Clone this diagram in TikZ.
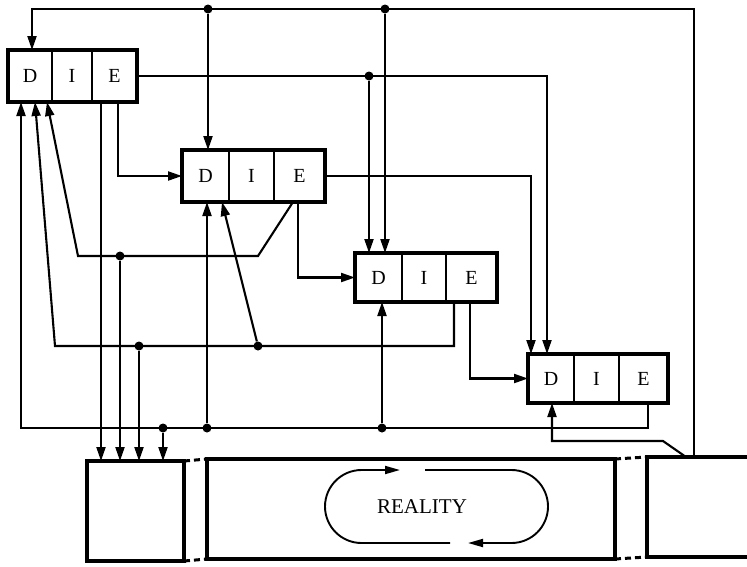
\documentclass[tikz,border=0pt]{standalone}
\usepackage{fontspec}
\setmainfont{Liberation Serif}
\usetikzlibrary{arrows.meta,calc}
\begin{document}
\begin{tikzpicture}[x=1pt,y=-1pt,
  wire/.style={line width=2.1pt,line join=miter},
  arr/.style={wire,-{Triangle[length=14pt,width=9pt]}},
  oarr/.style={wire,line width=1.9pt,-{Triangle[length=15pt,width=8pt]}},
  cell/.style={draw,line width=2pt,inner sep=0pt,outer sep=0pt,anchor=north west,font=\fontsize{20}{20}\selectfont},
  boxline/.style={line width=3.2pt},
  strip/.style={line width=3.2pt},
  stripbox/.style={draw,strip,inner sep=0pt,outer sep=0pt,anchor=north west},
  gap/.style={line width=3pt,dash pattern=on 6pt off 4pt},
  dot/.style={circle,fill,inner sep=0pt,minimum size=9pt}]
\useasboundingbox (0,0) rectangle (747,566);

% ---------- DIE boxes ----------
\node[cell,minimum width=44pt,minimum height=52pt] (d1) at (8,50) {D};
\node[cell,minimum width=40pt,minimum height=52pt] (i1) at (d1.north east) {I};
\node[cell,minimum width=45pt,minimum height=52pt] (e1) at (i1.north east) {E};
\draw[boxline] (d1.north west) rectangle (e1.south east);

\node[cell,minimum width=47pt,minimum height=52pt] (d2) at (182,150) {D};
\node[cell,minimum width=45pt,minimum height=52pt] (i2) at (d2.north east) {I};
\node[cell,minimum width=51pt,minimum height=52pt] (e2) at (i2.north east) {E};
\draw[boxline] (d2.north west) rectangle (e2.south east);

\node[cell,minimum width=47pt,minimum height=49pt] (d3) at (355,253) {D};
\node[cell,minimum width=44pt,minimum height=49pt] (i3) at (d3.north east) {I};
\node[cell,minimum width=51pt,minimum height=49pt] (e3) at (i3.north east) {E};
\draw[boxline] (d3.north west) rectangle (e3.south east);

\node[cell,minimum width=46pt,minimum height=49pt] (d4) at (528,354) {D};
\node[cell,minimum width=45pt,minimum height=49pt] (i4) at (d4.north east) {I};
\node[cell,minimum width=49pt,minimum height=49pt] (e4) at (i4.north east) {E};
\draw[boxline] (d4.north west) rectangle (e4.south east);

% ---------- bottom strip ----------
\node[stripbox,minimum width=97pt,minimum height=100pt] (act) at (87,461) {};
\node[stripbox,minimum width=408pt,minimum height=100pt] (real) at (207,459) {};
\coordinate (rbtl) at (647,457);
\coordinate (rbbl) at (647,557);
\coordinate (rbtr) at (747,457);
\coordinate (rbbr) at (747,557);
\draw[strip] (rbtr) -- (rbtl) -- (rbbl) -- (rbbr);
\draw[gap] (act.north east) -- (real.north west);
\draw[gap] (act.south east) -- (real.south west);
\draw[gap] (real.north east) -- (rbtl);
\draw[gap] (real.south east) -- (rbbl);

% ---------- junction dots ----------
\node[dot] (j1) at (208,9) {};
\node[dot] (j2) at (385,9) {};
\node[dot] (j3) at (369,76) {};
\node[dot] (j4) at (120,256) {};
\node[dot] (j5) at (139,346) {};
\node[dot] (j6) at (258,346) {};
\node[dot] (j7) at (163,428) {};
\node[dot] (j8) at (207,428) {};
\node[dot] (j9) at (382,428) {};

% ---------- connectors ----------
\coordinate (rt) at (694,457);
\coordinate (tr) at (694,9);
\draw[arr] (rt) -- (tr) -| ($(d1.north west)+(24,0)$);
\draw[arr] (j1) -- (j1 |- d2.north);
\draw[arr] (j2) -- (j2 |- d3.north);

\draw[arr] (e1.east) -| ($(d4.north west)+(19,0)$);
\draw[arr] (j3) -- (j3 |- d3.north);
\draw[arr] (e2.east) -| ($(d4.north west)+(3,0)$);

\draw[arr] ($(e1.south west)+(26,0)$) |- (d2.west);
\coordinate (p1) at ($(e1.south west)+(9,0)$);
\draw[arr] (p1) -- (p1 |- act.north);

\draw[arr] ($(e2.south west)+(24,0)$) |- (d3.west);
\draw[arr] ($(e3.south west)+(24,0)$) |- (d4.west);

\coordinate (k1) at (258,256);
\coordinate (k2) at (78,256);
\draw[arr] ($(e2.south west)+(19,0)$) -- (k1) -- (k2) -- ($(d1.south west)+(39,0)$);
\draw[arr] (j4) -- (j4 |- act.north);

\coordinate (k3) at (55,346);
\draw[arr] ($(e3.south west)+(8,0)$) |- (k3) -- ($(d1.south west)+(27,0)$);
\draw[arr] (j5) -- (j5 |- act.north);
\draw[arr] (j6) -- ($(d2.south west)+(40,0)$);

\coordinate (k4) at (21,428);
\draw[arr] ($(e4.south west)+(29,0)$) |- (k4) -- ($(d1.south west)+(13,0)$);
\draw[arr] (j7) -- (j7 |- act.north);
\draw[arr] (j8) -- (j8 |- d2.south);
\draw[arr] (j9) -- (j9 |- d3.south);

\coordinate (rt2) at (686,457);
\coordinate (k5) at (663,441);
\draw[arr] (rt2) -- (k5) -| ($(d4.south west)+(24,0)$);

% ---------- reality loop ----------
\node[font=\fontsize{21}{21}\selectfont,inner sep=0pt] (rl) at (422,507) {REALITY};
\draw[oarr] (425,470) -- (511.5,470) arc[start angle=-90,end angle=90,radius=36.5] -- (468,543);
\draw[oarr] (450,543) -- (361.5,543) arc[start angle=90,end angle=270,radius=36.5] -- (400,470);
\end{tikzpicture}
\end{document}
